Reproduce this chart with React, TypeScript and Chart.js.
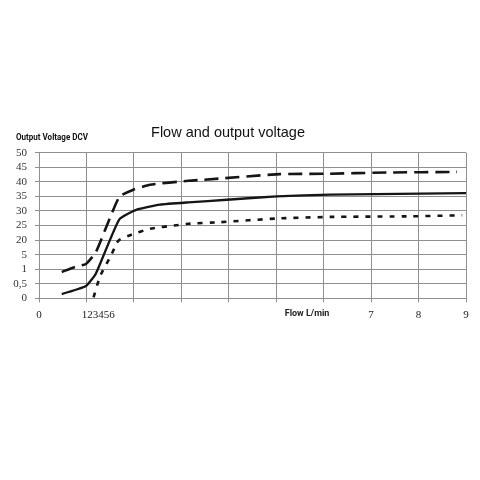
import React, { useEffect, useRef } from 'react';
import { Chart, registerables } from 'chart.js';

Chart.register(...registerables);

// y axis is drawn as 11 evenly spaced levels with these labels
const yTickLabels = ['0', '0,5', '1', '5', '20', '25', '30', '35', '40', '45', '50'];

// x axis labels (two of them sit between grid lines)
const xTickValues = [0, 1, 1.25, 2, 3, 4, 5, 5.65, 6, 7, 8, 9];
const xTickLabels = ['0', '', '123456', '', '', '', '', 'Flow L/min', '', '7', '8', '9'];

// upper curve (long dashes)
const flowHigh = [0.48, 0.76, 0.99, 1.2, 1.69, 1.99, 2.34, 3.15, 3.46, 5.08, 6.01, 7.33, 8.81];
const voltHigh = [1.81, 2.16, 2.36, 3.18, 6.96, 7.46, 7.8, 8.07, 8.14, 8.53, 8.55, 8.64, 8.68];

// middle curve (solid)
const flowMid = [0.48, 0.99, 1.2, 1.69, 2.06, 2.55, 3.15, 3.96, 5.01, 6.14, 9];
const voltMid = [0.29, 0.85, 1.71, 5.41, 6.09, 6.43, 6.59, 6.77, 7.0, 7.12, 7.22];

// lower curve (short dashes)
const flowLow = [1.15, 1.29, 1.53, 1.64, 1.71, 1.96, 2.34, 2.9, 3.15, 3.82, 5.01, 6.14, 7.83, 8.92];
const voltLow = [0.07, 1.54, 3.02, 3.82, 4.05, 4.39, 4.78, 5.02, 5.12, 5.23, 5.48, 5.59, 5.63, 5.7];

const chartTitle = 'Flow and output voltage';
const yAxisTitle = 'Output Voltage DCV';

const toPoints = (xs: number[], ys: number[]) => xs.map((x, i) => ({ x, y: ys[i] }));

const gridGrey = '#8f8f8f';

const titlesPlugin = {
  id: 'titles',
  afterDraw(chart: Chart) {
    const ctx = chart.ctx;
    ctx.save();
    ctx.fillStyle = '#111';
    ctx.textBaseline = 'middle';
    ctx.textAlign = 'center';
    ctx.font = '14.5px "Liberation Sans", Arial, sans-serif';
    ctx.fillText(chartTitle, 228, 133);
    ctx.textAlign = 'left';
    ctx.font = 'bold 8.8px Roboto, sans-serif';
    ctx.fillText(yAxisTitle, 16, 138, 72);
    ctx.restore();
  },
};

const App: React.FC = () => {
  const chartRef = useRef<HTMLCanvasElement>(null);
  const chartInstanceRef = useRef<Chart | null>(null);

  useEffect(() => {
    if (!chartRef.current) return;
    const ctx = chartRef.current.getContext('2d');
    if (!ctx) return;

    if (chartInstanceRef.current) {
      chartInstanceRef.current.destroy();
    }

    chartInstanceRef.current = new Chart(ctx, {
      type: 'scatter',
      data: {
        datasets: [
          {
            label: 'High',
            data: toPoints(flowHigh, voltHigh),
            showLine: true,
            borderColor: '#151515',
            borderWidth: 2.6,
            borderDash: [14, 7],
            pointRadius: 0,
            tension: 0.15,
          },
          {
            label: 'Mid',
            data: toPoints(flowMid, voltMid),
            showLine: true,
            borderColor: '#151515',
            borderWidth: 2.3,
            pointRadius: 0,
            tension: 0.15,
          },
          {
            label: 'Low',
            data: toPoints(flowLow, voltLow),
            showLine: true,
            borderColor: '#151515',
            borderWidth: 2.6,
            borderDash: [5, 7],
            pointRadius: 0,
            tension: 0.15,
          },
        ],
      },
      options: {
        animation: false,
        responsive: true,
        maintainAspectRatio: false,
        layout: {
          padding: { top: 152.7, right: 14, left: 0, bottom: 0 },
        },
        plugins: {
          legend: { display: false },
          title: { display: false },
          tooltip: { enabled: false },
        },
        scales: {
          x: {
            type: 'linear',
            min: 0,
            max: 9,
            afterBuildTicks: (scale: any) => {
              scale.ticks = xTickValues.map(v => ({ value: v }));
            },
            afterFit: (scale: any) => {
              scale.height = 480 - 298.3;
            },
            grid: {
              color: (c: any) => (c.tick && Number.isInteger(c.tick.value) ? gridGrey : 'rgba(0,0,0,0)'),
              lineWidth: 1,
              tickLength: 4,
            },
            border: { color: gridGrey, width: 1 },
            ticks: {
              autoSkip: false,
              maxRotation: 0,
              padding: 6,
              color: '#222',
              callback: (_v: any, i: number) => xTickLabels[i],
              font: (c: any) =>
                xTickLabels[c.index] === 'Flow L/min'
                  ? { family: 'Roboto, sans-serif', size: 9, weight: 'bold' }
                  : { family: '"Liberation Serif", serif', size: 11 },
            },
          },
          y: {
            type: 'linear',
            min: 0,
            max: 10,
            afterFit: (scale: any) => {
              scale.width = 39;
            },
            grid: { color: gridGrey, lineWidth: 1, tickLength: 4 },
            border: { color: gridGrey, width: 1 },
            ticks: {
              stepSize: 1,
              autoSkip: false,
              padding: 8,
              color: '#333',
              font: { family: '"Liberation Serif", serif', size: 11 },
              callback: (v: any) => yTickLabels[Math.round(Number(v))],
            },
          },
        },
      },
      plugins: [titlesPlugin],
    });

    return () => {
      if (chartInstanceRef.current) {
        chartInstanceRef.current.destroy();
        chartInstanceRef.current = null;
      }
    };
  }, []);

  return (
    <div style={{ position: 'fixed', left: 0, top: 0, width: 480, height: 480, background: '#fff' }}>
      <canvas ref={chartRef}></canvas>
    </div>
  );
};

export default App;
